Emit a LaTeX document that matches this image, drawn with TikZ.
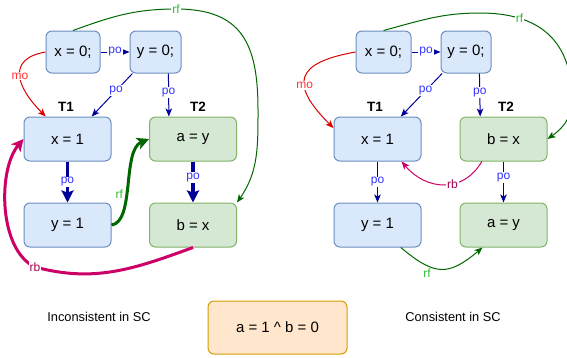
\documentclass[tikz,border=0pt]{standalone}
\usepackage{fontspec}
\setmainfont{Liberation Sans}
\usepackage{xcolor}
\usetikzlibrary{arrows.meta}
\definecolor{bluefill}{HTML}{DAE8FC}
\definecolor{blueline}{HTML}{6C8EBF}
\definecolor{greenfill}{HTML}{D5E8D4}
\definecolor{greenline}{HTML}{82B366}
\definecolor{orangefill}{HTML}{FFE6CC}
\definecolor{orangeline}{HTML}{D79B00}
\definecolor{pocol}{HTML}{000099}
\definecolor{polbl}{HTML}{3333FF}
\definecolor{mocol}{HTML}{DD0000}
\definecolor{molbl}{HTML}{FF3333}
\definecolor{rfcol}{HTML}{006600}
\definecolor{rflbl}{HTML}{33B833}
\definecolor{rbcol}{HTML}{CC0066}
\definecolor{rblbl}{HTML}{A3004F}

\begin{document}
\begin{tikzpicture}[x=1pt,y=1pt,
  bbox/.style={draw=blueline,fill=bluefill,line width=1pt,rounded corners=6pt,
    minimum width=87pt,minimum height=44pt,font=\fontsize{15}{18}\selectfont},
  gbox/.style={bbox,draw=greenline,fill=greenfill},
  sbox/.style={bbox,minimum height=42pt},
  obox/.style={bbox,draw=orangeline,fill=orangefill,minimum width=139pt,minimum height=53pt},
  tlbl/.style={font=\fontsize{13.5}{16}\bfseries\selectfont},
  captxt/.style={font=\fontsize{12.8}{15}\selectfont},
  lbl/.style={fill=white,inner sep=1pt,font=\fontsize{12}{14}\selectfont},
  poline/.style={draw=pocol,line width=1pt,-{Stealth[length=8pt,width=6.5pt,inset=2pt]}},
  pothick/.style={draw=pocol,line width=3.5pt,-{Stealth[length=12pt,width=12pt,inset=2pt]}},
  moline/.style={draw=mocol,line width=1pt,-{Stealth[length=8pt,width=6.5pt,inset=2pt]}},
  rfline/.style={draw=rfcol,line width=1pt,-{Stealth[length=8pt,width=6.5pt,inset=2pt]}},
  rfthick/.style={draw=rfcol,line width=3pt,-{Stealth[length=12pt,width=12pt,inset=3pt]}},
  rbline/.style={draw=rbcol,line width=1pt,-{Stealth[length=8pt,width=6.5pt,inset=2pt]}},
  rbthick/.style={draw=rbcol,line width=3pt,-{Stealth[length=12pt,width=12pt,inset=3pt]}}]
\useasboundingbox (0,0) rectangle (567,-357);

% left: inconsistent
\node (1) at (73,-52) [sbox,minimum width=54pt] {x = 0;};
\node (2) at (155.5,-52) [sbox,minimum width=51pt] {y = 0;};
\node (3) at (67.5,-139) [bbox] {x = 1};
\node (4) at (67.5,-225) [bbox] {y = 1};
\node (5) at (193,-139) [gbox] {a = y};
\node (6) at (193,-225) [gbox] {b = x};
\node (13) at (66,-107) [tlbl] {T1};
\node (14) at (198,-107) [tlbl] {T2};
\draw[poline] (1) -- node[lbl,text=polbl] {po} (2);
\draw[poline] (2.223) -- node[lbl,text=polbl,pos=0.4] {po} (3.43);
\draw[poline] (2.301) -- node[lbl,text=polbl,pos=0.45] {po} (5.137);
\draw[pothick] (3) -- node[lbl,text=polbl] {po} (4);
\draw[pothick] (5) -- node[lbl,text=polbl,pos=0.4] {po} (6);
\draw[moline] (1.west) to[out=190,in=135,looseness=1.6] node[lbl,text=molbl] {mo} (3.134);
\draw[rfline] (1.north) to[out=20,in=180] (176,-9) node[lbl,text=rflbl] {rf}
  to[out=0,in=90,looseness=1.3] (258,-110) to[out=-90,in=55] (6.north east);
\draw[rfthick] (4.east) .. controls (135,-222) and (122,-150) .. node[pos=0.42,left,inner sep=3pt,text=rflbl,font=\fontsize{12}{14}\selectfont] {rf} (5.west);
\draw[rbthick] (6.south) to[out=200,in=-15] (35,-267) node[lbl,text=rblbl] {rb}
  to[out=155,in=230,looseness=0.8] (3.west);

% right: consistent
\node (7) at (383.5,-52) [sbox,minimum width=55pt] {x = 0;};
\node (8) at (466,-52) [sbox,minimum width=50pt] {y = 0;};
\node (9) at (377.5,-139) [bbox] {x = 1};
\node (10) at (503.5,-139) [gbox] {b = x};
\node (11) at (377.5,-225) [bbox] {y = 1};
\node (12) at (503.5,-225) [gbox] {a = y};
\node (15) at (375,-107) [tlbl] {T1};
\node (16) at (506,-107) [tlbl] {T2};
\draw[poline] (7) -- node[lbl,text=polbl] {po} (8);
\draw[poline] (8.222) -- node[lbl,text=polbl,pos=0.4] {po} (9.44);
\draw[poline] (8.302) -- node[lbl,text=polbl,pos=0.45] {po} (10.136);
\draw[poline] (9) -- node[lbl,text=polbl] {po} (11);
\draw[poline] (10) -- node[lbl,text=polbl,pos=0.4] {po} (12);
\draw[moline] (7.west) to[out=190,in=135,looseness=2] node[lbl,text=molbl,pos=0.6] {mo} (9.166);
\draw[rfline] (7.north) to[out=15,in=180] (480,-13)
  to[out=0,in=90,looseness=1.2] node[lbl,text=rflbl,pos=0.25] {rf} (572,-100)
  to[out=-90,in=35] (10.east);
\draw[rbline] (10.226) to[out=-120,in=-50,looseness=1.2] node[lbl,text=rblbl,pos=0.4] {rb} (9.317);
\draw[rfline] (11.316) to[out=-40,in=220,looseness=1.4] node[pos=0.3,below,inner sep=3pt,text=rflbl,font=\fontsize{12}{14}\selectfont] {rf} (12.227);

% bottom
\node (17) at (99,-317) [captxt] {Inconsistent in SC};
\node (18) at (453,-317) [captxt] {Consistent in SC};
\node (19) at (277.5,-327.5) [obox] {a = 1 \textasciicircum{} b = 0};
\end{tikzpicture}
\end{document}
